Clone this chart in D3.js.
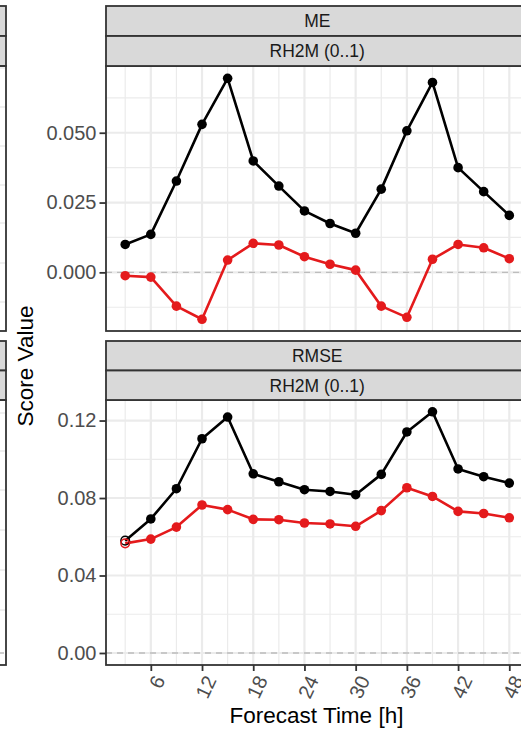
<!DOCTYPE html>
<html>
<head>
<meta charset="utf-8">
<script src="https://cdn.jsdelivr.net/npm/d3@7"></script>
<style>
  html, body { margin: 0; padding: 0; background: #fff; }
  svg { display: block; font-family: "Liberation Sans", Arial, sans-serif; }
</style>
</head>
<body>
<svg id="chart" width="521" height="730"></svg>
<script>
// ---------------- data ----------------
const hours = [3, 6, 9, 12, 15, 18, 21, 24, 27, 30, 33, 36, 39, 42, 45, 48];
const xTicks = [6, 12, 18, 24, 30, 36, 42, 48];

const meBlack = [0.0100, 0.0136, 0.0327, 0.0530, 0.0695, 0.0399, 0.0309, 0.0220,
                 0.0175, 0.0140, 0.0298, 0.0507, 0.0680, 0.0375, 0.0289, 0.0204];
const meRed   = [-0.0012, -0.0017, -0.0121, -0.0168, 0.0044, 0.0104, 0.0098, 0.0056,
                 0.0029, 0.0008, -0.0121, -0.0161, 0.0047, 0.0100, 0.0088, 0.0049];

const rmseBlack = [0.0580, 0.0692, 0.0848, 0.1106, 0.1218, 0.0925, 0.0884, 0.0843,
                   0.0834, 0.0817, 0.0922, 0.1141, 0.1245, 0.0950, 0.0910, 0.0877];
const rmseRed   = [0.0566, 0.0588, 0.0650, 0.0764, 0.0740, 0.0690, 0.0688, 0.0671,
                   0.0666, 0.0654, 0.0735, 0.0853, 0.0808, 0.0731, 0.0720, 0.0698];

const meTicks = [0.000, 0.025, 0.050];
const rmseTicks = [0.00, 0.04, 0.08, 0.12];
const scoreNames = ["ME", "RMSE"];
const paramName = "RH2M (0..1)";
const seriesColors = ["#000000", "#E41A1C"];

// ---------------- layout ----------------
const svg = d3.select("#chart");
const PX0 = 106, PX1 = 528.5;
const rows = [
  { stripTop: 6, stripMid: 36, top: 66, bottom: 331, domain: [-0.0210, 0.0739],
    ticks: meTicks, minor: [-0.0125, 0.0125, 0.0375, 0.0625], fmt: d3.format(".3f"),
    series: [meBlack, meRed], title: scoreNames[0], hollowFirst: false },
  { stripTop: 341, stripMid: 370.5, top: 400, bottom: 665, domain: [-0.0062, 0.1306],
    ticks: rmseTicks, minor: [0.02, 0.06, 0.10], fmt: d3.format(".2f"),
    series: [rmseBlack, rmseRed], title: scoreNames[1], hollowFirst: true }
];

const x = d3.scaleLinear().domain([0.75, 50.25]).range([PX0, PX1]);
const xMinor = [3, 9, 15, 21, 27, 33, 39, 45];

const gridCol = "#EBEBEB", borderCol = "#333333", stripFill = "#D9D9D9";

// left, partially visible panels (cut off)
const leftGridTop = [68, 107, 146, 185, 223, 263, 302];
const leftGridBot = [413, 451, 490, 530, 570, 610];
rows.forEach((r, i) => {
  const g = svg.append("g");
  const lg = i === 0 ? leftGridTop : leftGridBot;
  lg.forEach(yy => g.append("line").attr("x1", -10).attr("x2", 6).attr("y1", yy).attr("y2", yy)
    .attr("stroke", gridCol).attr("stroke-width", 1.6));
  if (i === 1) {
    g.append("line").attr("x1", -10).attr("x2", 6).attr("y1", 653).attr("y2", 653)
      .attr("stroke", "#BDBDBD").attr("stroke-width", 1.3).attr("stroke-dasharray", "5,4");
  }
  g.append("rect").attr("x", -20).attr("y", r.stripTop).attr("width", 26).attr("height", r.stripMid - r.stripTop)
    .attr("fill", stripFill).attr("stroke", borderCol).attr("stroke-width", 1.8);
  g.append("rect").attr("x", -20).attr("y", r.stripMid).attr("width", 26).attr("height", r.top - r.stripMid)
    .attr("fill", stripFill).attr("stroke", borderCol).attr("stroke-width", 1.8);
  g.append("rect").attr("x", -20).attr("y", r.top).attr("width", 26).attr("height", r.bottom - r.top)
    .attr("fill", "none").attr("stroke", borderCol).attr("stroke-width", 1.8);
});

// main panels
rows.forEach((r, i) => {
  const y = d3.scaleLinear().domain(r.domain).range([r.bottom, r.top]);
  const g = svg.append("g");
  const clipId = "clip" + i;
  svg.append("clipPath").attr("id", clipId).append("rect")
    .attr("x", PX0).attr("y", r.top).attr("width", PX1 - PX0).attr("height", r.bottom - r.top);
  const pg = g.append("g").attr("clip-path", `url(#${clipId})`);

  // minor grid
  xMinor.forEach(h => pg.append("line").attr("x1", x(h)).attr("x2", x(h)).attr("y1", r.top).attr("y2", r.bottom)
    .attr("stroke", gridCol).attr("stroke-width", 1.2));
  r.minor.forEach(v => pg.append("line").attr("x1", PX0).attr("x2", PX1).attr("y1", y(v)).attr("y2", y(v))
    .attr("stroke", gridCol).attr("stroke-width", 1.2));
  // major grid
  xTicks.forEach(h => pg.append("line").attr("x1", x(h)).attr("x2", x(h)).attr("y1", r.top).attr("y2", r.bottom)
    .attr("stroke", gridCol).attr("stroke-width", 2.2));
  r.ticks.forEach(v => pg.append("line").attr("x1", PX0).attr("x2", PX1).attr("y1", y(v)).attr("y2", y(v))
    .attr("stroke", gridCol).attr("stroke-width", 2.2));
  // zero line
  pg.append("line").attr("x1", PX0).attr("x2", PX1).attr("y1", y(0)).attr("y2", y(0))
    .attr("stroke", "#BDBDBD").attr("stroke-width", 1.4).attr("stroke-dasharray", "6,5");

  // series
  const line = d3.line().x((d, k) => x(hours[k])).y(d => y(d));
  r.series.forEach((vals, s) => {
    pg.append("path").datum(vals).attr("d", line).attr("fill", "none")
      .attr("stroke", seriesColors[s]).attr("stroke-width", 2.6).attr("stroke-linejoin", "round");
  });
  r.series.forEach((vals, s) => {
    pg.selectAll(null).data(vals).enter().append("circle")
      .attr("cx", (d, k) => x(hours[k])).attr("cy", d => y(d))
      .attr("r", (d, k) => (r.hollowFirst && k === 0) ? 4.3 : 4.8)
      .attr("fill", (d, k) => (r.hollowFirst && k === 0) ? "none" : seriesColors[s])
      .attr("stroke", seriesColors[s])
      .attr("stroke-width", (d, k) => (r.hollowFirst && k === 0) ? 1.5 : 0);
  });

  // panel border
  g.append("rect").attr("x", PX0).attr("y", r.top).attr("width", PX1 - PX0).attr("height", r.bottom - r.top)
    .attr("fill", "none").attr("stroke", borderCol).attr("stroke-width", 1.8);

  // strips
  g.append("rect").attr("x", PX0).attr("y", r.stripTop).attr("width", PX1 - PX0).attr("height", r.stripMid - r.stripTop)
    .attr("fill", stripFill).attr("stroke", borderCol).attr("stroke-width", 1.8);
  g.append("rect").attr("x", PX0).attr("y", r.stripMid).attr("width", PX1 - PX0).attr("height", r.top - r.stripMid)
    .attr("fill", stripFill).attr("stroke", borderCol).attr("stroke-width", 1.8);
  const cx = (PX0 + PX1) / 2;
  g.append("text").attr("x", cx).attr("y", (r.stripTop + r.stripMid) / 2).attr("dy", "0.36em")
    .attr("text-anchor", "middle").attr("font-size", 17.5).attr("fill", "#1A1A1A").text(r.title);
  g.append("text").attr("x", cx).attr("y", (r.stripMid + r.top) / 2).attr("dy", "0.36em")
    .attr("text-anchor", "middle").attr("font-size", 17.5).attr("fill", "#1A1A1A").text(paramName);

  // y axis
  const yAxis = d3.axisLeft(y).tickValues(r.ticks).tickFormat(r.fmt).tickSize(6.5).tickPadding(3);
  const ag = svg.append("g").attr("transform", `translate(${PX0},0)`).call(yAxis);
  ag.select(".domain").remove();
  ag.selectAll(".tick line").attr("stroke", borderCol).attr("stroke-width", 1.8);
  ag.selectAll(".tick text").attr("font-size", 20).attr("fill", "#4D4D4D")
    .attr("font-family", "Liberation Sans, Arial, sans-serif");

  // x axis on bottom row
  if (i === 1) {
    const xAxis = d3.axisBottom(x).tickValues(xTicks).tickFormat(d3.format("d")).tickSize(6).tickPadding(0);
    const xg = svg.append("g").attr("transform", `translate(0,${r.bottom})`).call(xAxis);
    xg.select(".domain").remove();
    xg.selectAll(".tick line").attr("stroke", borderCol).attr("stroke-width", 1.8);
    xg.selectAll(".tick text")
      .attr("font-size", 20).attr("fill", "#4D4D4D")
      .attr("font-family", "Liberation Sans, Arial, sans-serif")
      .attr("text-anchor", "end")
      .attr("y", 0).attr("dy", "0.35em")
      .attr("transform", "translate(8,12) rotate(-65)");
  }
});

// axis titles
svg.append("text").attr("x", 316.5).attr("y", 723).attr("text-anchor", "middle")
  .attr("font-size", 22.5).attr("fill", "#000").text("Forecast Time [h]");
svg.append("text").attr("transform", "translate(33,366) rotate(-90)").attr("text-anchor", "middle")
  .attr("font-size", 22.5).attr("fill", "#000").text("Score Value");
</script>
</body>
</html>
